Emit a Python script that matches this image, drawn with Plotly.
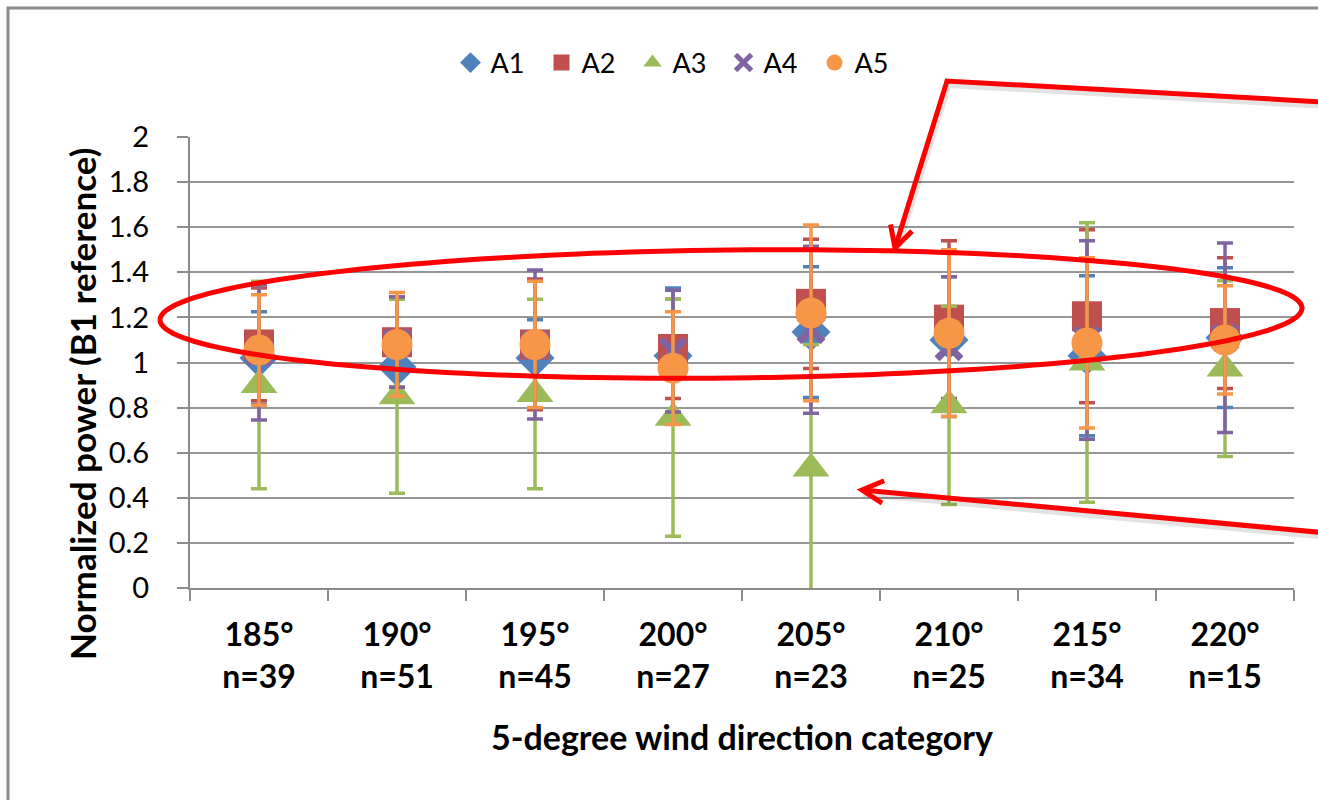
import numpy as np
import plotly.graph_objects as go

# Wind direction bins and sample counts
directions = [185, 190, 195, 200, 205, 210, 215, 220]
counts = [39, 51, 45, 27, 23, 25, 34, 15]

# Normalized power (mean) and error (+/-) per turbine
a1 = [1.02, 0.98, 1.02, 1.03, 1.135, 1.10, 1.03, 1.11]
a1_err = [0.205, 0.15, 0.17, 0.30, 0.29, 0.28, 0.355, 0.31]
a2 = [1.08, 1.09, 1.08, 1.06, 1.26, 1.19, 1.205, 1.175]
a2_err = [0.25, 0.20, 0.29, 0.22, 0.287, 0.35, 0.384, 0.29]
a3 = [0.90, 0.85, 0.86, 0.755, 0.53, 0.81, 1.00, 0.973]
a3_err = [0.46, 0.43, 0.42, 0.525, 0.55, 0.44, 0.62, 0.39]
a4 = [1.045, 1.09, 1.08, 1.05, 1.145, 1.07, 1.10, 1.11]
a4_err = [0.30, 0.20, 0.33, 0.27, 0.37, 0.31, 0.44, 0.42]
a5 = [1.055, 1.08, 1.08, 0.975, 1.22, 1.13, 1.087, 1.10]
a5_err = [0.245, 0.23, 0.28, 0.25, 0.39, 0.37, 0.377, 0.24]

y_ticks = [0, 0.2, 0.4, 0.6, 0.8, 1, 1.2, 1.4, 1.6, 1.8, 2]

categories = [f"{d}°<br>n={n}" for d, n in zip(directions, counts)]

W, H = 1318, 800
L, R, T, B = 190, 24, 137, 212
PW, PH = W - L - R, H - T - B

FONT = "Lato"


def px(x):
    return (x - L) / PW


def py(y):
    return (H - B - y) / PH


series = [
    ("A1", a1, a1_err, "#4F81BD", "diamond", 30),
    ("A2", a2, a2_err, "#C0504D", "square", 30),
    ("A3", a3, a3_err, "#9BBB59", "triangle-up", 32),
    ("A4", a4, a4_err, "#8064A2", "x-thin", 24),
    ("A5", a5, a5_err, "#F79646", "circle", 31),
]

fig = go.Figure()
for name, vals, err, color, symbol, size in series:
    marker = dict(color=color, symbol=symbol, size=size)
    if symbol == "x-thin":
        marker["line"] = dict(color=color, width=7)
    fig.add_trace(go.Scatter(
        x=categories, y=vals, name=name, mode="markers",
        marker=marker,
        error_y=dict(type="data", array=err, symmetric=True,
                     color=color, thickness=3.5, width=8),
    ))

shapes = []
# Chart frame (left, top and bottom visible)
frame = dict(type="path", xref="paper", yref="paper",
             path=f"M {px(1400)},{py(8)} L {px(8)},{py(8)} L {px(8)},{py(900)}",
             line=dict(color="#8C8C8C", width=3), layer="below")
shapes.append(frame)

RED = "#FF0000"

# Highlight ellipse
cx, cy, rx, ry, ang = 731, 314, 571, 64, np.deg2rad(-0.6)
t = np.linspace(0, 2 * np.pi, 181)
ex = cx + rx * np.cos(t) * np.cos(ang) - ry * np.sin(t) * np.sin(ang)
ey = cy + rx * np.cos(t) * np.sin(ang) + ry * np.sin(t) * np.cos(ang)
epath = "M " + " L ".join(f"{px(a):.5f},{py(b):.5f}" for a, b in zip(ex, ey)) + " Z"
shapes.append(dict(type="path", xref="paper", yref="paper", path=epath,
                   line=dict(color=RED, width=5)))


def polyline(points, color, width):
    p = "M " + " L ".join(f"{px(a):.5f},{py(b):.5f}" for a, b in points)
    return dict(type="path", xref="paper", yref="paper", path=p,
                line=dict(color=color, width=width))


def arrow(points, head=24, spread=28):
    tip = np.array(points[-1], float)
    prev = np.array(points[-2], float)
    back = (prev - tip) / np.linalg.norm(prev - tip)
    out = []
    for s in (-spread, spread):
        a = np.deg2rad(s)
        rot = np.array([[np.cos(a), -np.sin(a)], [np.sin(a), np.cos(a)]])
        out.append(tuple(tip + head * rot @ back))
    shadow = [(a + 1, b + 3) for a, b in points]
    return [polyline(shadow, "rgba(0,0,0,0.11)", 8),
            polyline(points, RED, 5),
            polyline([out[0], tuple(tip), out[1]], RED, 5)]


shapes += arrow([(1360, 104), (947, 81), (895, 248)])
shapes += arrow([(1360, 536), (862, 490)])

# Vertical axis title, set slightly below the plot centre
y_title = dict(text="<b>Normalized power (B1 reference)</b>",
               xref="paper", yref="paper", x=px(82), y=py(404),
               xanchor="center", yanchor="middle", textangle=-90,
               showarrow=False, font=dict(size=35, family=FONT, color="#000000"))

fig.update_layout(
    width=W, height=H,
    margin=dict(l=L, r=R, t=T, b=B),
    paper_bgcolor="white", plot_bgcolor="white",
    font=dict(family=FONT, color="#000000"),
    showlegend=True,
    legend=dict(orientation="h", x=px(678), y=py(63), xanchor="center",
                yanchor="middle", font=dict(size=27, family=FONT),
                itemsizing="trace", entrywidth=46, entrywidthmode="pixels",
                bgcolor="rgba(0,0,0,0)"),
    xaxis=dict(
        type="category", range=[-0.5, 7.5],
        showline=True, linecolor="#8C8C8C", linewidth=2,
        showgrid=False, tickson="boundaries",
        ticks="outside", ticklen=11, tickcolor="#8C8C8C", tickwidth=2,
        tickfont=dict(size=32, family=FONT, weight="bold"),
        ticklabelstandoff=18,
        title=dict(text="5-degree wind direction category",
                   font=dict(size=34, family=FONT, weight="bold"), standoff=32),
    ),
    yaxis=dict(
        range=[0, 2], tickvals=y_ticks,
        ticktext=[f"{v:g}" for v in y_ticks],
        showline=True, linecolor="#8C8C8C", linewidth=2,
        showgrid=True, gridcolor="#969696", gridwidth=2,
        zeroline=False,
        ticks="outside", ticklen=11, tickcolor="#8C8C8C", tickwidth=2,
        tickfont=dict(size=29, family=FONT),
        ticklabelstandoff=22,
    ),
    annotations=[y_title],
    shapes=shapes,
)

fig.write_html("out.html")
